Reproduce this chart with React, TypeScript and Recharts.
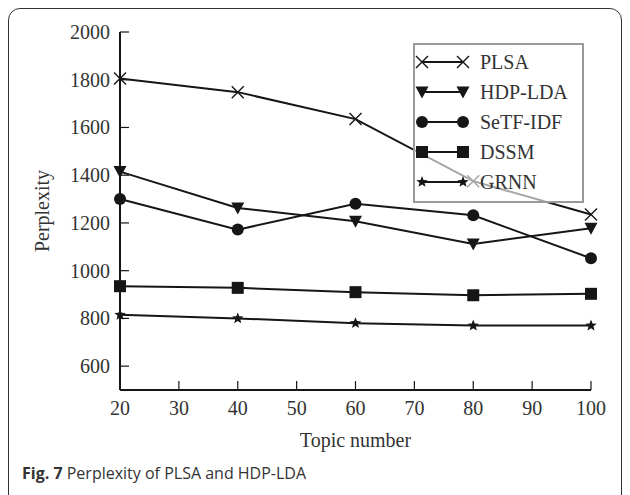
import { LineChart, Line, XAxis, YAxis, Legend } from "recharts";

const topics = [20, 40, 60, 80, 100];
const plsa = [1805, 1748, 1635, 1375, 1235];
const hdpLda = [1415, 1263, 1207, 1112, 1178];
const setfIdf = [1300, 1172, 1280, 1232, 1052];
const dssm = [935, 928, 910, 897, 903];
const grnn = [815, 800, 780, 770, 770];

const xTicks = [20, 30, 40, 50, 60, 70, 80, 90, 100];
const innerXTicks = [30, 40, 50, 60, 70, 80, 90];
const yTicks = [600, 800, 1000, 1200, 1400, 1600, 1800, 2000];
const innerYTicks = [600, 800, 1000, 1200, 1400, 1600, 1800];

const series = [
  { key: "PLSA", values: plsa, marker: "cross" },
  { key: "HDP-LDA", values: hdpLda, marker: "tri" },
  { key: "SeTF-IDF", values: setfIdf, marker: "circle" },
  { key: "DSSM", values: dssm, marker: "square" },
  { key: "GRNN", values: grnn, marker: "star" },
];

const data = topics.map((t, i) => {
  const row: Record<string, number> = { topic: t };
  series.forEach((s) => (row[s.key] = s.values[i]));
  return row;
});

const INK = "#161616";
const SERIF = '"Liberation Serif", "DejaVu Serif", serif';
const serifText = { fontFamily: SERIF, fontSize: 20 };

function Marker({ kind, cx, cy }: { kind: string; cx: number; cy: number }) {
  if (kind === "cross") {
    const s = 6;
    return (
      <g stroke={INK} strokeWidth={1.4}>
        <line x1={cx - s} y1={cy - s} x2={cx + s} y2={cy + s} />
        <line x1={cx - s} y1={cy + s} x2={cx + s} y2={cy - s} />
      </g>
    );
  }
  if (kind === "tri") {
    return <polygon points={`${cx - 6.5},${cy - 5.5} ${cx + 6.5},${cy - 5.5} ${cx},${cy + 6.5}`} fill={INK} />;
  }
  if (kind === "circle") {
    return <circle cx={cx} cy={cy} r={6} fill={INK} />;
  }
  if (kind === "square") {
    return <rect x={cx - 6} y={cy - 6} width={12} height={12} fill={INK} />;
  }
  // star
  const pts: string[] = [];
  for (let k = 0; k < 10; k++) {
    const r = k % 2 === 0 ? 6 : 2.6;
    const a = -Math.PI / 2 + (k * Math.PI) / 5;
    pts.push(`${cx + r * Math.cos(a)},${cy + r * Math.sin(a)}`);
  }
  return <polygon points={pts.join(" ")} fill={INK} />;
}

function LegendBox() {
  return (
    <div
      style={{
        width: 171,
        height: 160,
        boxSizing: "border-box",
        border: "2px solid #9a9a9a",
        background: "rgba(255,255,255,0.62)",
        paddingTop: 2,
        fontFamily: SERIF,
        fontSize: 20,
        color: "#333",
      }}
    >
      {series.map((s) => (
        <div key={s.key} style={{ display: "flex", alignItems: "center", height: 30 }}>
          <svg width={65} height={20} style={{ flex: "none" }}>
            <line x1={7} y1={10} x2={48} y2={10} stroke={INK} strokeWidth={2} />
            <Marker kind={s.marker} cx={7} cy={10} />
            <Marker kind={s.marker} cx={48} cy={10} />
          </svg>
          <span>{s.key}</span>
        </div>
      ))}
    </div>
  );
}

// tick labels drawn by hand so the serif font sticks
const XTick = (p: any) => (
  <text x={p.x} y={p.y + 14} textAnchor="middle" fill="#333" style={serifText}>
    {p.payload.value}
  </text>
);

const YTick = (p: any) => (
  <text x={p.x} y={p.y + 7} textAnchor="end" fill="#333" style={serifText}>
    {p.payload.value}
  </text>
);

export default function App() {
  return (
    <div style={{ position: "absolute", left: 0, top: 0, width: 630, height: 495, background: "#fff", overflow: "hidden" }}>
      <div
        style={{
          position: "absolute",
          left: 8,
          top: 8,
          width: 614,
          height: 500,
          boxSizing: "border-box",
          border: "1.5px solid #333",
          borderRadius: 12,
        }}
      />
      <div style={{ position: "absolute", left: 0, top: 0, fontFamily: SERIF }}>
        <LineChart
          width={630}
          height={495}
          data={data}
          margin={{ top: 32, right: 39, bottom: 0, left: 0 }}
          style={{ fontFamily: SERIF }}
        >
          <XAxis
            dataKey="topic"
            type="number"
            domain={[20, 100]}
            ticks={xTicks}
            height={105}
            axisLine={{ stroke: INK, strokeWidth: 2 }}
            tickLine={{ stroke: INK, strokeWidth: 1.2 }}
            tickSize={-9}
            tickMargin={20}
            tick={XTick}
            interval={0}
            label={(p: any) => (
              <text
                x={p.viewBox.x + p.viewBox.width / 2}
                y={p.viewBox.y + 57}
                textAnchor="middle"
                fill="#333"
                style={serifText}
              >
                Topic number
              </text>
            )}
          />
          <XAxis
            xAxisId="top"
            orientation="top"
            type="number"
            domain={[20, 100]}
            ticks={innerXTicks}
            height={0}
            axisLine={{ stroke: INK, strokeWidth: 2 }}
            tickLine={{ stroke: INK, strokeWidth: 1.2 }}
            tickSize={-9}
            tickFormatter={() => ""}
            interval={0}
          />
          <YAxis
            type="number"
            domain={[500, 2000]}
            ticks={yTicks}
            width={120}
            axisLine={{ stroke: INK, strokeWidth: 2 }}
            tickLine={{ stroke: INK, strokeWidth: 1.2 }}
            tickSize={-9}
            tickMargin={19}
            tick={YTick}
            interval={0}
            label={(p: any) => (
              <text
                x={42}
                y={p.viewBox.y + p.viewBox.height / 2}
                textAnchor="middle"
                dominantBaseline="central"
                transform={`rotate(-90 42 ${p.viewBox.y + p.viewBox.height / 2})`}
                fill="#333"
                style={serifText}
              >
                Perplexity
              </text>
            )}
          />
          <YAxis
            yAxisId="right"
            orientation="right"
            type="number"
            domain={[500, 2000]}
            ticks={innerYTicks}
            width={0}
            axisLine={{ stroke: INK, strokeWidth: 2 }}
            tickLine={{ stroke: INK, strokeWidth: 1.2 }}
            tickSize={-9}
            tickFormatter={() => ""}
            interval={0}
          />
          {series.map((s) => (
            <Line
              key={s.key}
              dataKey={s.key}
              stroke={INK}
              strokeWidth={2}
              isAnimationActive={false}
              dot={(p: any) => <Marker key={`${s.key}-${p.index}`} kind={s.marker} cx={p.cx} cy={p.cy} />}
              activeDot={false}
            />
          ))}
          <Legend
            content={() => <LegendBox />}
            layout="horizontal"
            verticalAlign="middle"
            align="center"
            wrapperStyle={{ left: 413, top: 43, width: 171, height: 160 }}
          />
        </LineChart>
      </div>
      <div
        style={{
          position: "absolute",
          left: 22,
          top: 462,
          fontFamily: '"Open Sans", sans-serif',
          fontSize: 16,
          color: "#333",
          whiteSpace: "nowrap",
        }}
      >
        <b>Fig. 7</b> Perplexity of PLSA and HDP-LDA
      </div>
    </div>
  );
}
